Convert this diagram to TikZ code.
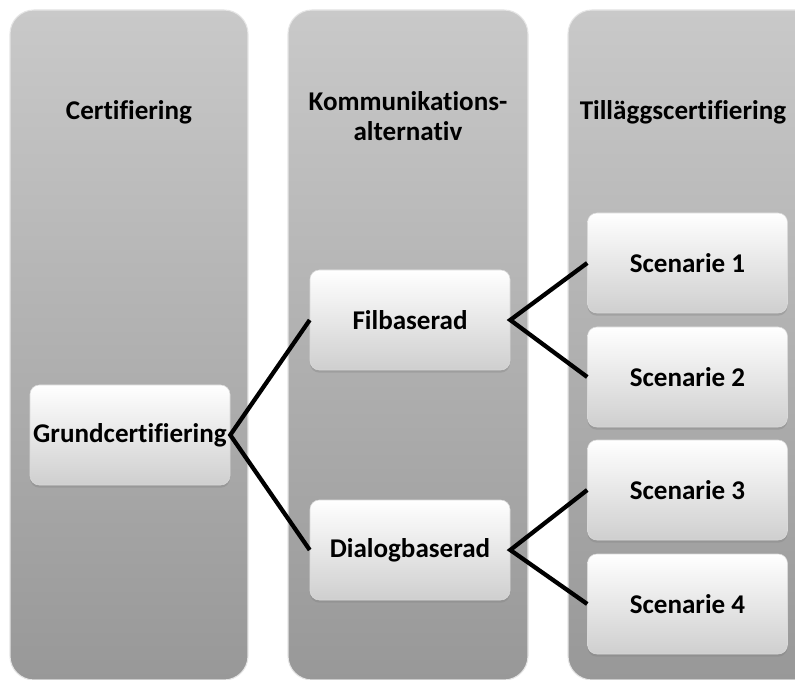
\documentclass[tikz,border=0pt]{standalone}
\usepackage{fontspec}
\setmainfont[Ligatures=NoCommon]{Carlito}
\usetikzlibrary{shadows}
\definecolor{colTop}{HTML}{C9C9C9}
\definecolor{colBot}{HTML}{989898}
\definecolor{cardBot}{HTML}{CFCFCF}
\begin{document}
\begin{tikzpicture}[x=0.75pt,y=-0.75pt,
  col/.style={rounded corners=18pt, top color=colTop, bottom color=colBot, draw=white!90!black, line width=0.8pt},
  card/.style={rounded corners=7pt, top color=white, bottom color=cardBot, draw=white!85!black, line width=0.4pt,
    minimum width=150pt, minimum height=75pt, inner sep=1pt, align=center,
    font=\bfseries\fontsize{20.3}{23}\selectfont,
    drop shadow={shadow xshift=0pt, shadow yshift=-2pt, opacity=0.35}},
  head/.style={align=center, font=\bfseries\fontsize{20.3}{23}\selectfont},
  link/.style={line width=3.2pt, black, line join=miter}]
\useasboundingbox (0,0) rectangle (795,680);
\clip (0,0) rectangle (795,680);
\fill[white] (0,0) rectangle (795,680);
% columns
\path[col] (10,10) rectangle (248,680);
\path[col] (288,10) rectangle (528,680);
\path[col] (568,10) rectangle (830,680);
% headings
\node[head] (h1) at (129,112) {Certifiering};
\node[head] (h2) at (408,116) {Kommunikations-\\alternativ};
\node[head] (h3) at (683,112) {Tilläggscertifiering};
% cards
\node[card] (g) at (130,435) {Grundcertifiering};
\node[card] (f) at (410,320) {Filbaserad};
\node[card] (d) at (410,550) {Dialogbaserad};
\node[card] (s1) at (687.5,263) {Scenarie 1};
\node[card] (s2) at (687.5,377) {Scenarie 2};
\node[card] (s3) at (687.5,490) {Scenarie 3};
\node[card] (s4) at (687.5,604) {Scenarie 4};
% connectors
\draw[link] (f.west) -- (g.east) -- (d.west);
\draw[link] (s1.west) -- (f.east) -- (s2.west);
\draw[link] (s3.west) -- (d.east) -- (s4.west);
\end{tikzpicture}
\end{document}
